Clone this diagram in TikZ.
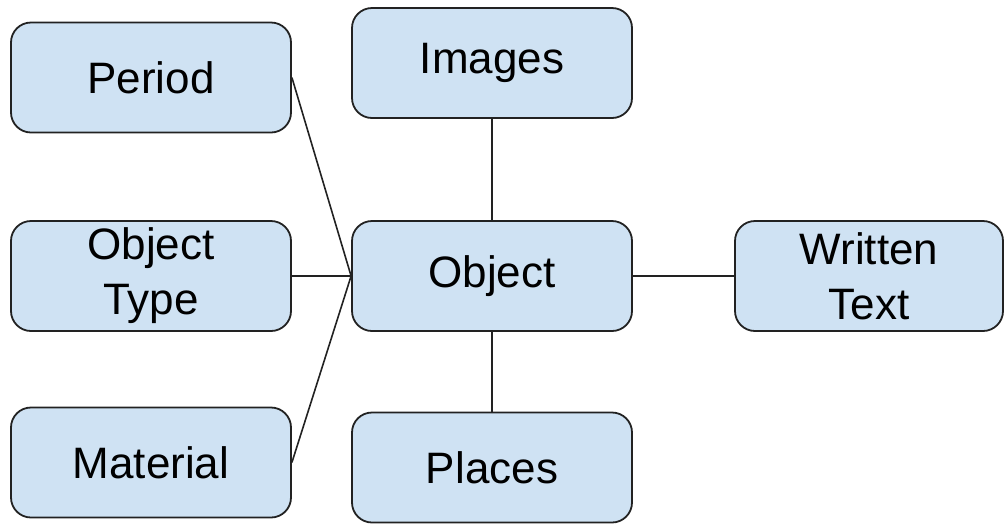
\documentclass[tikz,border=0pt]{standalone}
\usepackage{fontspec}
\setmainfont{Liberation Sans}
\usetikzlibrary{shapes.geometric}
\definecolor{boxblue}{HTML}{CFE2F3}
\definecolor{boxline}{HTML}{222222}

\begin{document}
\begin{tikzpicture}[x=1pt,y=-1pt]
\tikzstyle{block} = [rectangle, draw=boxline, line width=1.8pt, fill=boxblue,
minimum width=280pt, minimum height=110pt, align=center, rounded corners=20pt,
font=\fontsize{44}{55}\selectfont, inner sep=0pt]
\tikzstyle{line} = [draw, line width=1.6pt, boxline];
\useasboundingbox (0,0) rectangle (1004,523);
% left column
\node [block] (period) at (151,77.5) {Period};
\node [block] (type) at (151,276) {Object\\Type};
\node [block] (material) at (151,462.5) {Material};
% middle column
\node [block] (images) at (492,63) {Images};
\node [block] (object) at (492,276) {Object};
\node [block] (places) at (492,467.5) {Places};
% right column
\node [block, minimum width=268pt] (written) at (869,276) {Written\\Text};
\tikzstyle{every path}=[line]
\path (period.east) -- (object.west);
\path (type.east) -- (object.west);
\path (material.east) -- (object.west);
\path (images) -- (object);
\path (object) -- (places);
\path (object) -- (written);
\end{tikzpicture}
\end{document}
